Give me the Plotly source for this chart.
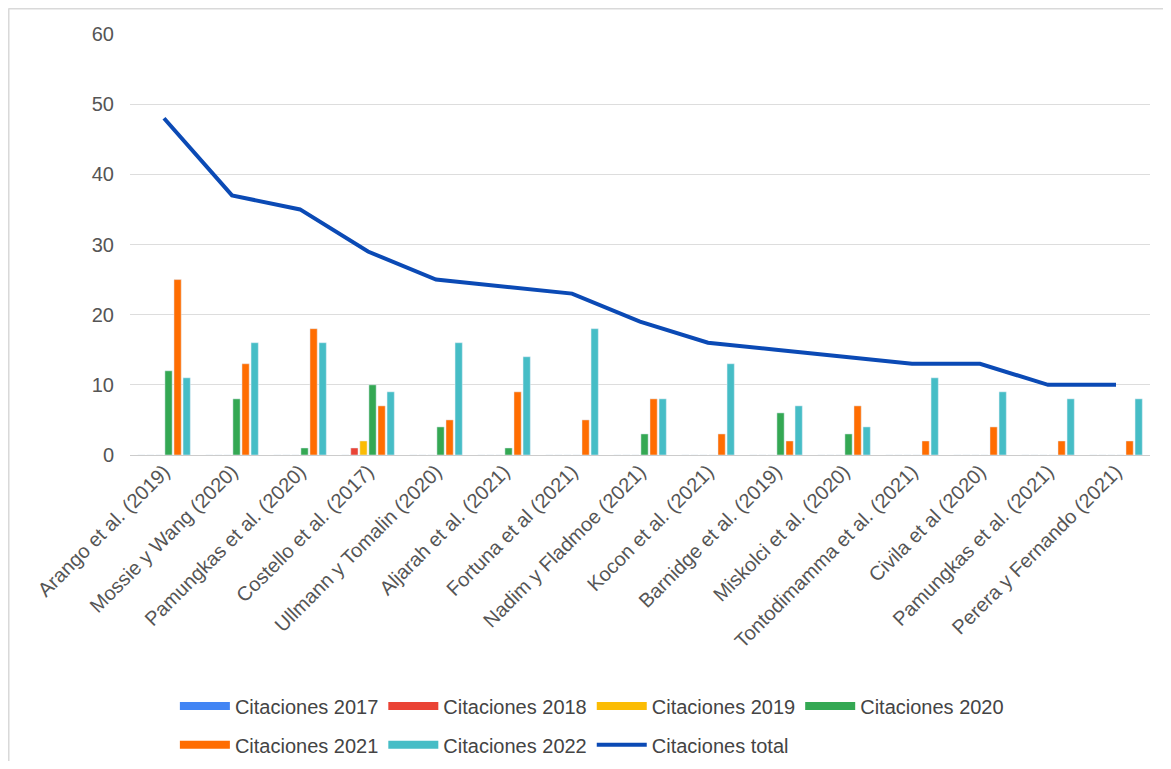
import plotly.graph_objects as go

categories = [
    "Arango et al. (2019)", "Mossie y Wang (2020)", "Pamungkas et al. (2020)",
    "Costello et al. (2017)", "Ullmann y Tomalin (2020)", "Aljarah et al. (2021)",
    "Fortuna et al (2021)", "Nadim y Fladmoe (2021)", "Kocon et al. (2021)",
    "Barnidge et al. (2019)", "Miskolci et al. (2020)", "Tontodimamma et al. (2021)",
    "Civila et al (2020)", "Pamungkas et al. (2021)", "Perera y Fernando (2021)",
]
cit_2017 = [0, 0, 0, 0, 0, 0, 0, 0, 0, 0, 0, 0, 0, 0, 0]
cit_2018 = [0, 0, 0, 1, 0, 0, 0, 0, 0, 0, 0, 0, 0, 0, 0]
cit_2019 = [0, 0, 0, 2, 0, 0, 0, 0, 0, 0, 0, 0, 0, 0, 0]
cit_2020 = [12, 8, 1, 10, 4, 1, 0, 3, 0, 6, 3, 0, 0, 0, 0]
cit_2021 = [25, 13, 18, 7, 5, 9, 5, 8, 3, 2, 7, 2, 4, 2, 2]
cit_2022 = [11, 16, 16, 9, 16, 14, 18, 8, 13, 7, 4, 11, 9, 8, 8]
cit_total = [48, 37, 35, 29, 25, 24, 23, 19, 16, 15, 14, 13, 13, 10, 10]
y_ticks = [0, 10, 20, 30, 40, 50, 60]

series = [
    ("Citaciones 2017", cit_2017, "#4285F4"),
    ("Citaciones 2018", cit_2018, "#EA4335"),
    ("Citaciones 2019", cit_2019, "#FBBC04"),
    ("Citaciones 2020", cit_2020, "#34A853"),
    ("Citaciones 2021", cit_2021, "#FF6D01"),
    ("Citaciones 2022", cit_2022, "#46BDC6"),
]
total_color = "#0B4AB5"
FONT = "Liberation Sans, Arial, sans-serif"

fig = go.Figure()
for name, vals, col in series:
    fig.add_trace(go.Bar(x=categories, y=vals, name=name, marker_color=col,
                         showlegend=False))
fig.add_trace(go.Scatter(x=categories, y=cit_total, name="Citaciones total",
                         mode="lines", line=dict(color=total_color, width=4),
                         showlegend=False))

# legend entries (wide rectangle swatches like the original)
for i, (name, vals, col) in enumerate(series):
    fig.add_trace(go.Scatter(x=[None], y=[None], mode="lines", name=name,
                             line=dict(color=col, width=8),
                             legend="legend" if i < 4 else "legend2"))
fig.add_trace(go.Scatter(x=[None], y=[None], mode="lines", name="Citaciones total",
                         line=dict(color=total_color, width=4), legend="legend2"))

legend_common = dict(orientation="h", font=dict(family=FONT, size=20, color="#444"),
                     itemwidth=50, bgcolor="rgba(0,0,0,0)", xanchor="left",
                     yanchor="middle", yref="container",
                     itemclick=False, itemdoubleclick=False)

fig.update_layout(
    width=1155, height=753,
    margin=dict(l=122, r=13, t=26, b=306),
    paper_bgcolor="white", plot_bgcolor="white",
    barmode="group", bargap=0.2, bargroupgap=0.2,
    font=dict(family=FONT, size=20, color="#444"),
    xaxis=dict(tickangle=-45, tickfont=dict(family=FONT, size=20, color="#555"),
               showgrid=False, showline=False, ticks="", automargin=False),
    yaxis=dict(range=[0, 60], tickvals=y_ticks, showgrid=True, gridcolor="#DDDDDD",
               zeroline=True, zerolinecolor="#CCCCCC", zerolinewidth=1,
               tickfont=dict(family=FONT, size=20, color="#555"), ticks="",
               ticklabelstandoff=15, automargin=False),
    legend=dict(x=0.044, y=0.073, **legend_common),
    legend2=dict(x=0.044, y=0.0215, **legend_common),
    shapes=[
        dict(type="line", xref="paper", yref="paper", x0=-0.1191, x1=-0.1191,
             y0=1.0606, y1=-0.9, line=dict(color="#D9D9D9", width=2)),
        dict(type="line", xref="paper", yref="paper", x0=-0.1191, x1=1.1,
             y0=1.0606, y1=1.0606, line=dict(color="#D9D9D9", width=2)),
    ],
)

fig.write_html("out.html")
